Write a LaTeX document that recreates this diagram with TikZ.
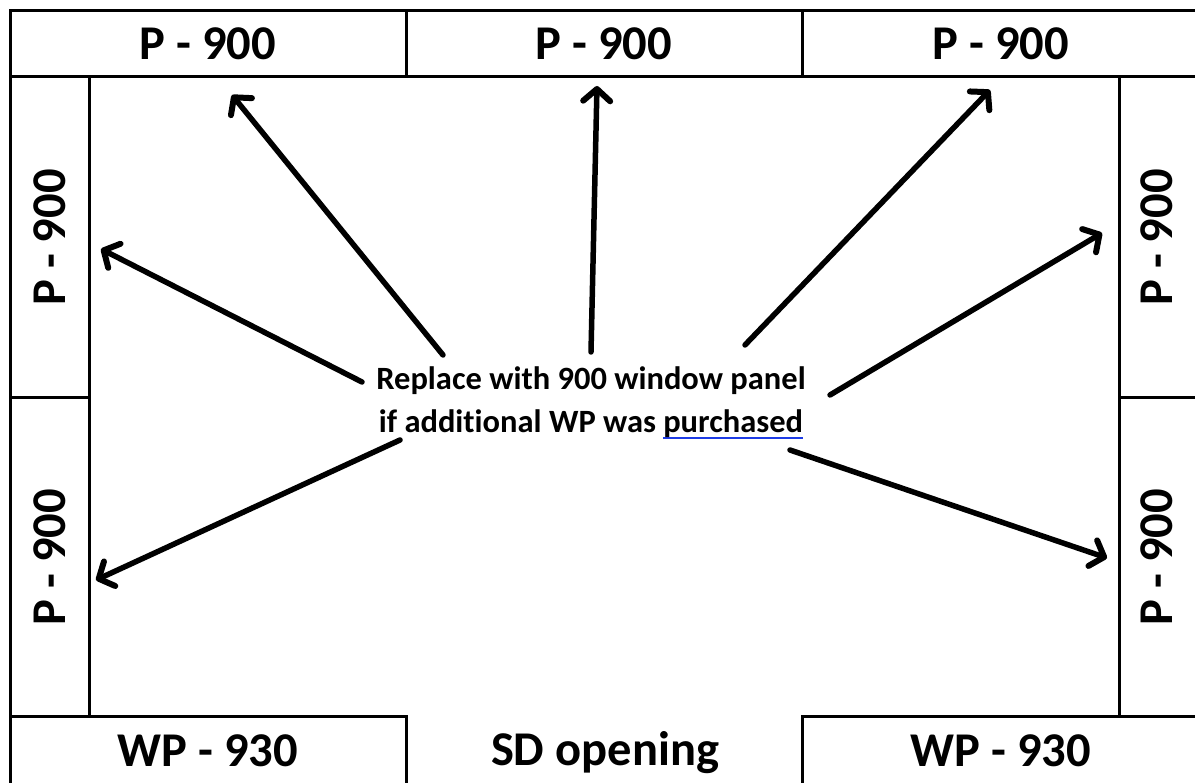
\documentclass[tikz,border=0pt]{standalone}
\usepackage{fontspec}
\setmainfont[Ligatures={NoCommon}]{Carlito}
\usetikzlibrary{arrows.meta}
\definecolor{linkblue}{RGB}{30,60,230}
\newlength\purchw
\newcommand\blueul[1]{\settowidth{\purchw}{#1}\rlap{\textcolor{linkblue}{\rule[-6pt]{\purchw}{2pt}}}#1}
\begin{document}
\begin{tikzpicture}[x=1pt,y=-1pt,
  lbl/.style={font=\fontsize{48.5}{52}\selectfont\bfseries, inner sep=0pt},
  panel/.style={draw=black, line width=3pt, inner sep=0pt, lbl},
  pointer/.style={line width=5.5pt, line cap=round, -{Straight Barb[length=12pt,width=27pt,line width=6pt,round]}},
  note/.style={align=center, inner sep=0pt, font=\fontsize{32.5}{43}\selectfont\bfseries}]
\useasboundingbox (0,0) rectangle (1195,783);
\clip (0,0) rectangle (1195,783);
\fill[white] (0,0) rectangle (1195,783);
% top row
\node[panel, minimum width=396pt, minimum height=66pt] (t1) at (208,44) {P - 900};
\node[panel, minimum width=396pt, minimum height=66pt] (t2) at (604,44) {P - 900};
\node[panel, minimum width=398pt, minimum height=66pt] (t3) at (1001,44) {};
\node[lbl] (t3t) at (1001,44) {P - 900};
% left column
\node[panel, rotate=90, minimum width=321pt, minimum height=79pt] (l1) at (49.5,237.5) {P - 900};
\node[panel, rotate=90, minimum width=318pt, minimum height=79pt] (l2) at (49.5,557) {P - 900};
% right column
\node[panel, rotate=90, minimum width=321pt, minimum height=81pt] (r1) at (1159.5,237.5) {};
\node[panel, rotate=90, minimum width=318pt, minimum height=81pt] (r2) at (1159.5,557) {};
\node[lbl, rotate=90] (r1t) at (1157,237.5) {P - 900};
\node[lbl, rotate=90] (r2t) at (1157,557) {P - 900};
% bottom row
\node[panel, minimum width=396pt, minimum height=74pt] (b1) at (208,753) {};
\node[lbl] (b1t) at (208,751) {WP - 930};
\node[lbl] (sd) at (605,753) {SD opening};
\node[panel, minimum width=398pt, minimum height=74pt] (b3) at (1001,753) {};
\node[lbl] (b3t) at (1001,751) {WP - 930};
% central note
\node[note] (n) at (591,403) {Replace with 900 window panel\\if additional WP was \blueul{purchased}};
% arrow end points
\coordinate (s1) at (443,355); \coordinate (e1) at (232,95);
\coordinate (s2) at (591,352); \coordinate (e2) at (597,86);
\coordinate (s3) at (745,345); \coordinate (e3) at (990,90);
\coordinate (s4) at (830,395); \coordinate (e4) at (1102,233);
\coordinate (s5) at (790,450); \coordinate (e5) at (1107,558);
\coordinate (s6) at (400,440); \coordinate (e6) at (96,580);
\coordinate (s7) at (362,382); \coordinate (e7) at (101,249);
\foreach \i in {1,...,7} \draw[pointer] (s\i) -- (e\i);
\end{tikzpicture}
\end{document}
